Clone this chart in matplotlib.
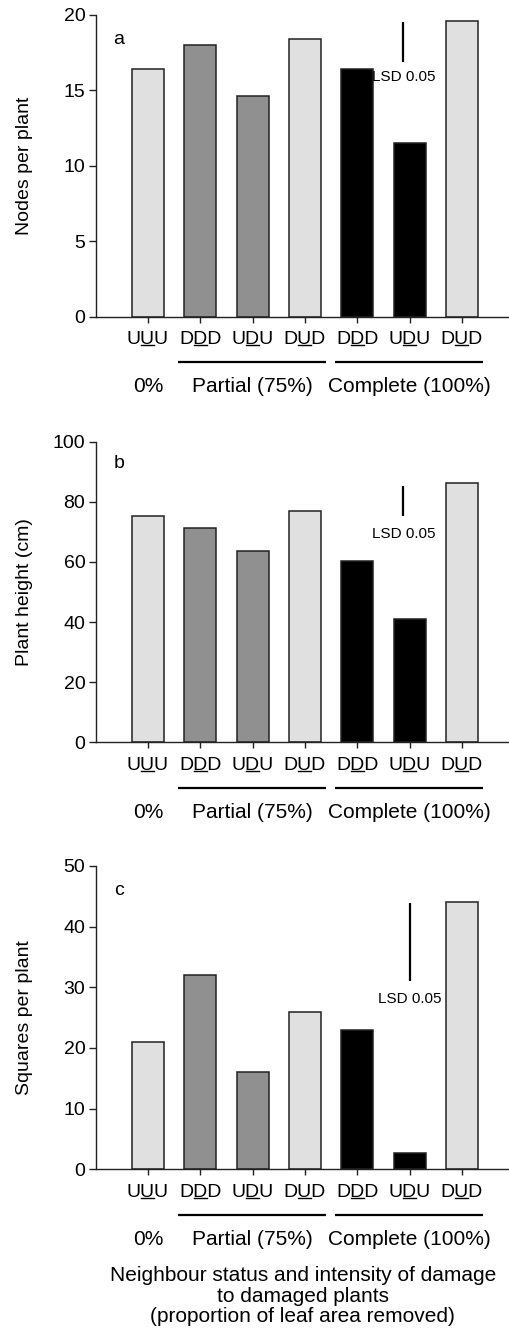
import matplotlib
matplotlib.use('Agg')
import matplotlib.pyplot as plt
import matplotlib.transforms as mtransforms
from matplotlib.lines import Line2D

plt.rcParams['font.family'] = ['Liberation Sans', 'DejaVu Sans']

# data
treatments = ['UUU', 'DDD', 'UDU', 'DUD', 'DDD', 'UDU', 'DUD']
bar_colors = ['#e0e0e0', '#909090', '#909090', '#e0e0e0', '#000000', '#000000', '#e0e0e0']
nodes = [16.4, 18.0, 14.6, 18.4, 16.4, 11.5, 19.6]
plant_height = [75.4, 71.3, 63.5, 76.8, 60.4, 41.0, 86.1]
squares = [21.0, 32.0, 16.1, 26.0, 22.9, 2.6, 44.0]
groups = ['0%', 'Partial (75%)', 'Complete (100%)']
group_centers = [1, 3, 6]
group_spans = [(1.57, 4.41), (4.57, 7.40)]
# LSD bar: x, bottom, top, text y
lsd_a = (5.88, 16.9, 19.5, 15.9)
lsd_b = (5.88, 75.2, 85.4, 69.4)
lsd_c = (6.0, 31.1, 43.9, 28.0)

panels = [
    ('a', nodes, 'Nodes per plant', 20, 5, lsd_a, 18.4),
    ('b', plant_height, 'Plant height (cm)', 100, 20, lsd_b, 92.7),
    ('c', squares, 'Squares per plant', 50, 10, lsd_c, 46.0),
]
rects = [
    [0.1876, 0.7626, 0.8124, 0.2262],
    [0.1876, 0.4436, 0.8124, 0.2253],
    [0.1876, 0.1235, 0.8124, 0.2274],
]

fig = plt.figure(figsize=(5.1, 13.34), dpi=100)
x = list(range(1, len(treatments) + 1))
edge = '#222222'
axes = []

for (letter, vals, ylab, ymax, ystep, lsd, letter_y), rect in zip(panels, rects):
    ax = fig.add_axes(rect)
    axes.append(ax)
    ax.bar(x, vals, width=0.61, color=bar_colors, edgecolor=edge, linewidth=1.1, zorder=2)
    ax.set_xlim(0, 7.92)
    ax.set_ylim(0, ymax)
    ax.set_yticks(range(0, ymax + 1, ystep))
    ax.set_xticks(x)
    ax.set_xticklabels(treatments, fontsize=14)
    ax.tick_params(axis='x', length=4.3, width=1, pad=6, color=edge)
    ax.tick_params(axis='y', length=5, width=1, pad=2.5, labelsize=14, color=edge)
    for s in ['top', 'right']:
        ax.spines[s].set_visible(False)
    for s in ['left', 'bottom']:
        ax.spines[s].set_linewidth(1.0)
        ax.spines[s].set_color(edge)
    ax.set_ylabel(ylab, fontsize=14)
    ax.yaxis.set_label_coords(-0.152, 0.5)

    ax.text(0.44, letter_y, letter, fontsize=14, ha='center', va='center')

    lx, ly0, ly1, ty = lsd
    ax.plot([lx, lx], [ly0, ly1], color='black', linewidth=1.6, solid_capstyle='butt')
    ax.text(lx, ty, 'LSD 0.05', fontsize=11, ha='center', va='center')

    # group brackets and labels below the axis
    trans = mtransforms.blended_transform_factory(ax.transData, ax.transAxes)
    line_trans = mtransforms.offset_copy(trans, fig=fig, x=0, y=-32.6, units='points')
    for x0, x1 in group_spans:
        ax.plot([x0, x1], [0, 0], color='black', linewidth=1.6,
                transform=line_trans, clip_on=False, solid_capstyle='butt')
    for gx, g in zip(group_centers, groups):
        ax.annotate(g, xy=(gx, 0), xycoords=trans, xytext=(0, -50.6),
                    textcoords='offset points', ha='center', va='center', fontsize=15)

axes[-1].annotate('Neighbour status and intensity of damage\nto damaged plants\n(proportion of leaf area removed)',
                  xy=(0.5, 0), xycoords='axes fraction', xytext=(0, -69.5),
                  textcoords='offset points', ha='center', va='top',
                  fontsize=15, linespacing=1.12)

# underline the middle letter of each treatment label
fig.canvas.draw()
renderer = fig.canvas.get_renderer()
for ax in axes:
    for t in ax.get_xticklabels():
        s = t.get_text()
        bb = t.get_window_extent(renderer)
        prop = t.get_fontproperties()
        w1 = renderer.get_text_width_height_descent(s[:1], prop, ismath=False)[0]
        w2 = renderer.get_text_width_height_descent(s[:2], prop, ismath=False)[0]
        d = renderer.get_text_width_height_descent('lp', prop, ismath=False)[2]
        y = bb.y0 + d - 1.5
        p0 = fig.transFigure.inverted().transform((bb.x0 + w1 + 0.5, y))
        p1 = fig.transFigure.inverted().transform((bb.x0 + w2 - 0.5, y))
        fig.add_artist(Line2D([p0[0], p1[0]], [p0[1], p1[1]], color='black',
                              linewidth=1.0, transform=fig.transFigure))

fig.savefig('out.png', dpi=100)
